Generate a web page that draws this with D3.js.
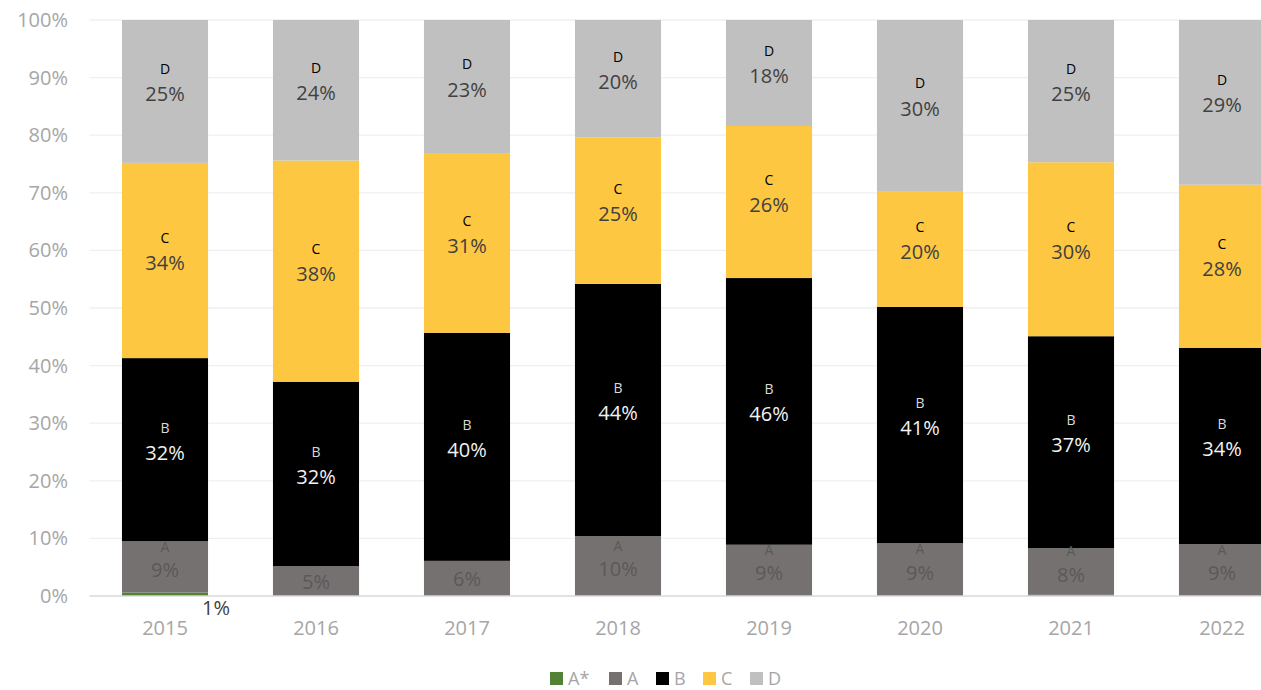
<!DOCTYPE html>
<html lang="en">
<head>
<meta charset="UTF-8">
<title>Stacked share by year</title>
<script src="https://cdn.jsdelivr.net/npm/d3@7"></script>
<style>
  body { margin: 0; background: #fff; }
  svg { display: block; font-family: "Open Sans", sans-serif; }
</style>
</head>
<body>
<div id="chart"></div>
<script>
// Data (percent of total)
const years = ["2015", "2016", "2017", "2018", "2019", "2020", "2021", "2022"];
const seriesNames = ["A*", "A", "B", "C", "D"];
const aStar = [0.6, 0, 0, 0, 0, 0, 0.2, 0];
const aVals = [8.9, 5.2, 6.1, 10.4, 8.9, 9.2, 8.1, 9.0];
const bVals = [31.8, 32.0, 39.6, 43.8, 46.3, 41.0, 36.8, 34.1];
const cVals = [33.9, 38.4, 31.2, 25.4, 26.4, 20.1, 30.2, 28.3];
const dVals = [24.8, 24.4, 23.1, 20.4, 18.4, 29.7, 24.7, 28.6];
const yTicks = [0, 10, 20, 30, 40, 50, 60, 70, 80, 90, 100];

const colors = { "A*": "#548235", "A": "#767171", "B": "#000000", "C": "#fdc741", "D": "#c0c0c0" };
const letterColor = { "A": "#595959", "B": "#d9d9d9", "C": "#000000", "D": "#000000" };
const pctColor = { "A": "#595959", "B": "#f2f2f2", "C": "#404040", "D": "#404040" };

const width = 1261, height = 690;
const plotTop = 20, plotBottom = 596, plotLeft = 89.5;

const rows = years.map((yr, i) => ({
  year: yr, "A*": aStar[i], "A": aVals[i], "B": bVals[i], "C": cVals[i], "D": dVals[i]
}));

const svg = d3.select("#chart").append("svg")
  .attr("width", width).attr("height", height);

const x = d3.scaleBand().domain(years)
  .range([plotLeft, plotLeft + 151 * years.length])
  .paddingInner(0.43).paddingOuter(0.215);
const y = d3.scaleLinear().domain([0, 100]).range([plotBottom, plotTop]);

// gridlines
svg.append("g").selectAll("line").data(yTicks.filter(d => d > 0)).join("line")
  .attr("x1", plotLeft).attr("x2", width)
  .attr("y1", d => y(d)).attr("y2", d => y(d))
  .attr("stroke", "#efefef").attr("stroke-width", 1.3);

// y labels
svg.append("g").selectAll("text").data(yTicks).join("text")
  .attr("x", 68).attr("y", d => y(d)).attr("dy", "0.35em")
  .attr("text-anchor", "end").attr("fill", "#a6a6a6")
  .attr("font-size", 20).text(d => d + "%");

const stack = d3.stack().keys(seriesNames);
const layers = stack(rows);

svg.append("g").selectAll("g").data(layers).join("g")
  .attr("fill", d => colors[d.key])
  .selectAll("rect").data(d => d).join("rect")
  .attr("x", d => x(d.data.year))
  .attr("width", x.bandwidth())
  .attr("y", d => y(d[1]))
  .attr("height", d => y(d[0]) - y(d[1]));

// axis baseline
svg.append("line").attr("x1", plotLeft).attr("x2", width)
  .attr("y1", plotBottom).attr("y2", plotBottom)
  .attr("stroke", "#d9d9d9").attr("stroke-width", 1.3);

// x labels
svg.append("g").selectAll("text").data(years).join("text")
  .attr("x", d => x(d) + x.bandwidth() / 2).attr("y", 628).attr("dy", "0.35em")
  .attr("text-anchor", "middle").attr("fill", "#a6a6a6")
  .attr("font-size", 20).text(d => d);

// data labels
const lab = svg.append("g").attr("text-anchor", "middle");
layers.forEach(layer => {
  const k = layer.key;
  layer.forEach(d => {
    const v = d.data[k];
    if (!v) return;
    const cx = x(d.data.year) + x.bandwidth() / 2;
    const h = y(d[0]) - y(d[1]);
    const mid = (y(d[0]) + y(d[1])) / 2;
    if (k === "A*") {
      if (v < 0.5) return;
      lab.append("text").attr("x", cx + 51).attr("y", 608).attr("dy", "0.35em")
        .attr("font-size", 20).attr("fill", "#404040")
        .text(d3.format(".0f")(v) + "%");
      return;
    }
    const big = h > 45;
    lab.append("text").attr("x", cx).attr("y", big ? mid + 3 : mid + 1).attr("dy", "0.35em")
      .attr("font-size", 20).attr("fill", pctColor[k])
      .text(d3.format(".0f")(v) + "%");
    if (big) {
      lab.append("text").attr("x", cx).attr("y", mid - (h > 80 ? 22 : 20)).attr("dy", "0.35em")
        .attr("font-size", 14).attr("fill", letterColor[k])
        .text(k);
    }
  });
});

// legend
const legX = [550, 609, 656, 703, 750];
const leg = svg.append("g").selectAll("g").data(seriesNames).join("g")
  .attr("transform", (d, i) => `translate(${legX[i]},672)`);
leg.append("rect").attr("width", 13).attr("height", 13).attr("fill", d => colors[d]);
leg.append("text").attr("x", 18).attr("y", 6.5).attr("dy", "0.35em")
  .attr("font-size", 18).attr("fill", "#a6a6a6").text(d => d);
</script>
</body>
</html>
